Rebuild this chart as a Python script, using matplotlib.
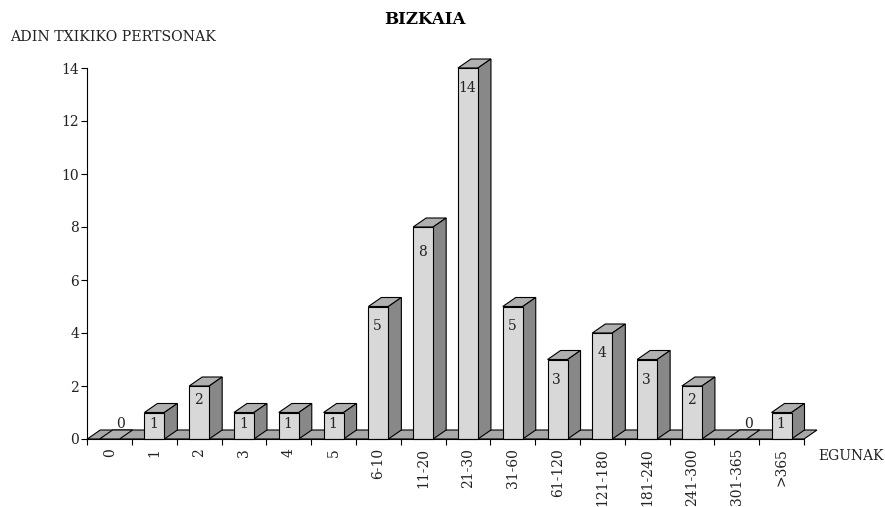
import numpy as np
import matplotlib
matplotlib.use('Agg')
import matplotlib.pyplot as plt
from matplotlib.patches import Polygon

categories = ['0', '1', '2', '3', '4', '5', '6-10', '11-20', '21-30', '31-60', '61-120',
              '121-180', '181-240', '241-300', '301-365', '>365']
values = [0, 1, 2, 1, 1, 1, 5, 8, 14, 5, 3, 4, 3, 2, 0, 1]
yticks = [0, 2, 4, 6, 8, 10, 12, 14]

plt.rcParams['font.family'] = ['DejaVu Serif']

W, H = 885, 507
x0, x1, y0, y14 = 87.3, 804.0, 439.0, 68.0
fig = plt.figure(figsize=(W / 100, H / 100), dpi=100)
ax = fig.add_axes([x0 / W, 1 - y0 / H, (x1 - x0) / W, (y0 - y14) / H])
ax.set_xlim(0, 16)
ax.set_ylim(0, 14)

# depth of the fake 3d, in data units
ux = (x1 - x0) / 16
uy = (y0 - y14) / 14
dx = 13 / ux
dy = 9 / uy
bar_l = 12.3 / ux
bar_w = 20 / ux

front = '#d8d8d8'
top = '#b0b0b0'
side = '#888888'
floor = '#a8a8a8'
lw = 0.8


def poly(pts, color, z):
    ax.add_patch(Polygon(pts, closed=True, fc=color, ec='black', lw=lw, zorder=z,
                         clip_on=False, joinstyle='miter'))


poly([(0, 0), (dx, dy), (16 + dx, dy), (16, 0)], floor, 1)

for i, v in enumerate(values):
    l = i + bar_l
    r = l + bar_w
    z = 2 + i * 0.01
    poly([(l, v), (l + dx, v + dy), (r + dx, v + dy), (r, v)], top, z)
    if v > 0:
        poly([(r, 0), (r + dx, dy), (r + dx, v + dy), (r, v)], side, z)
        poly([(l, 0), (l, v), (r, v), (r, 0)], front, z)
        # label sits further down on the taller bars
        drop = 12 if v == 1 else 14 if v == 2 else 25 if v == 8 else 20
        ax.annotate(str(v), (l + bar_w / 2, v), xytext=(-0.5, -drop * 0.72), textcoords='offset points',
                    ha='center', va='center', fontsize=10, color='#222222', zorder=5)
    else:
        ax.annotate(str(v), (l + bar_w, 0), xytext=(1, 15 * 0.72), textcoords='offset points',
                    ha='center', va='center', fontsize=10, color='#222222', zorder=5)

for s in ['top', 'right']:
    ax.spines[s].set_visible(False)
for s in ['left', 'bottom']:
    ax.spines[s].set_linewidth(lw)
    ax.spines[s].set_zorder(4)

ax.set_yticks(yticks)
ax.set_xticks(np.arange(17))
ax.set_xticklabels([])
ax.set_xticks(np.arange(16) + 0.5, categories, minor=True, rotation=90, fontsize=10)
ax.tick_params(axis='x', which='minor', length=0, pad=6.5, colors='#222222')
ax.tick_params(axis='x', which='major', length=4.5, width=lw)
ax.tick_params(axis='y', length=4.5, width=lw, pad=1.5, labelsize=10, labelcolor='#222222')

fig.text(425 / W, 1 - 20 / H, 'BIZKAIA', ha='center', va='center', fontsize=12, fontweight='bold')
fig.text(10 / W, 1 - 37 / H, 'ADIN TXIKIKO PERTSONAK', ha='left', va='center', fontsize=10.2, color='#222222')
fig.text(818 / W, 1 - 456 / H, 'EGUNAK', ha='left', va='center', fontsize=10, color='#222222')

fig.savefig('out.png', dpi=100)
